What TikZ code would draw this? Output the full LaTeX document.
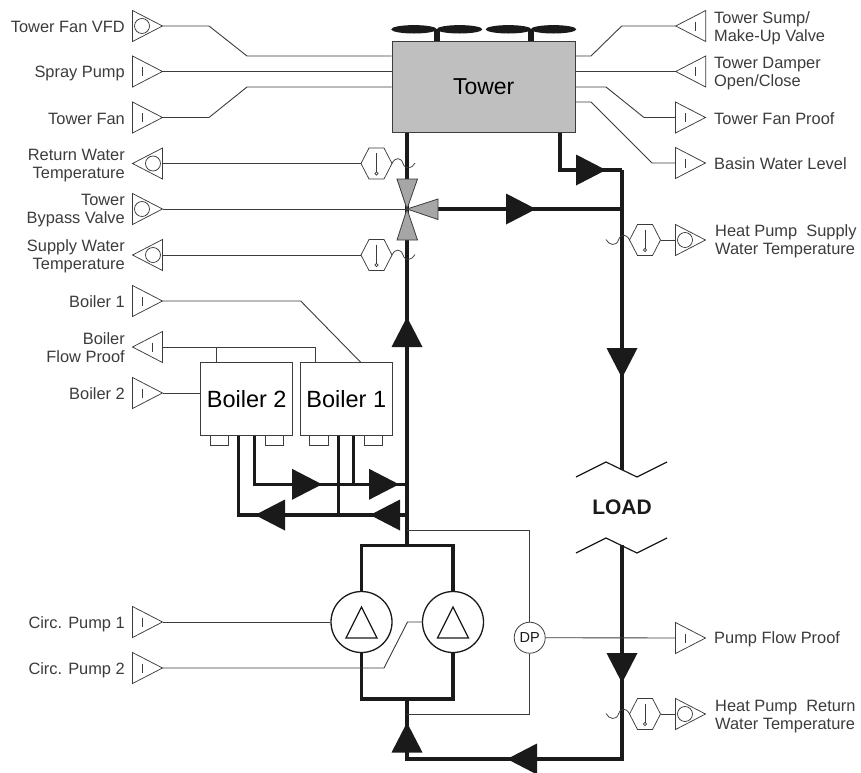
\documentclass[tikz,border=0pt]{standalone}
\usepackage{fontspec}
\setmainfont{Liberation Sans}
\definecolor{ink}{HTML}{1A1A1A}
\definecolor{wire}{HTML}{3C3C3C}
\definecolor{towergray}{HTML}{BFBFBF}
\definecolor{valvegray}{HTML}{A6A6A6}
\tikzset{
  sig/.style={draw=wire,line width=0.75pt,line join=miter},
  wireline/.style={draw=wire,line width=0.9pt},
  pipe/.style={draw=ink,line width=3.4pt,line join=miter},
  blockbox/.style={draw=wire,line width=0.9pt,fill=white,inner sep=0pt,font=\fontsize{23.5}{26}\selectfont},
  lbl/.style={inner sep=0pt,text=ink!85!white,font=\fontsize{16.4}{18}\selectfont,align=right,anchor=east},
  lblr/.style={lbl,align=left,anchor=west},
  pumpc/.style={circle,draw=ink,line width=1.3pt,fill=white,minimum size=61pt,inner sep=0pt},
  tipfill/.style={fill=ink,draw=none},
}
\newcommand{\s}{\strut}
% signal triangles: name, base x, centre y
\newcommand{\sigR}[3]{\coordinate (#1) at (#2+30,#3);\coordinate (#1b) at (#2,#3);
  \draw[sig] (#2,#3-15.5)--(#2,#3+15.5)--(#2+30,#3)--cycle;}
\newcommand{\sigL}[3]{\coordinate (#1) at (#2-30,#3);\coordinate (#1b) at (#2,#3);
  \draw[sig] (#2,#3-15.5)--(#2,#3+15.5)--(#2-30,#3)--cycle;}
\newcommand{\barR}[2]{\draw[sig] (#1+10,#2-4.5)--(#1+10,#2+4.5);}
\newcommand{\barL}[2]{\draw[sig] (#1-10,#2-4.5)--(#1-10,#2+4.5);}
\newcommand{\ringR}[2]{\draw[sig] (#1+9.5,#2) circle (7.5);}
\newcommand{\ringL}[2]{\draw[sig] (#1-9.5,#2) circle (7.5);}
% temperature sensor: name, left x, centre y
\newcommand{\hexs}[3]{\coordinate (#1w) at (#2,#3);\coordinate (#1e) at (#2+31,#3);
  \draw[sig,fill=white] (#2,#3)--(#2+8,#3-15.5)--(#2+23,#3-15.5)--(#2+31,#3)--(#2+23,#3+15.5)--(#2+8,#3+15.5)--cycle;
  \draw[sig] (#2+15.5,#3-10.5)--(#2+15.5,#3+8.5);
  \draw[sig] (#2+15.5,#3+10) circle (1.6);}
% flow arrows: tip x, tip y
\newcommand{\flowR}[2]{\fill[tipfill] (#1,#2)--(#1-30,#2-15.5)--(#1-30,#2+15.5)--cycle;}
\newcommand{\flowL}[2]{\fill[tipfill] (#1,#2)--(#1+30,#2-15.5)--(#1+30,#2+15.5)--cycle;}
\newcommand{\flowU}[2]{\fill[tipfill] (#1,#2)--(#1-15.5,#2+30)--(#1+15.5,#2+30)--cycle;}
\newcommand{\flowD}[2]{\fill[tipfill] (#1,#2)--(#1-15.5,#2-30)--(#1+15.5,#2-30)--cycle;}
\begin{document}
\begin{tikzpicture}[x=1pt,y=-1pt]
\clip (0,0) rectangle (861,772);
\fill[white] (0,0) rectangle (861,772);

% ---- blocks
\node[blockbox,fill=towergray,minimum width=183.5pt,minimum height=91.5pt,
  font=\fontsize{23}{26}\selectfont] (tower) at (483.7,87) {Tower};
\node[blockbox,minimum width=92pt,minimum height=73.5pt] (boilerB) at (246.7,399) {Boiler 2};
\node[blockbox,minimum width=92pt,minimum height=73.5pt] (boilerA) at (346.3,399) {Boiler 1};

% ---- named junctions
\coordinate (v) at (407,209);
\coordinate (vR) at (438,209);
\coordinate (jA) at (622,209);
\coordinate (tOut) at (560,132.7);
\coordinate (tc) at (622,170);
\coordinate (loadT) at (622,470);
\coordinate (loadB) at (622,545);
\coordinate (corner) at (622,759);
\coordinate (bot) at (407,759);
\coordinate (pumpBot) at (407,699);
\coordinate (pumpTop) at (407,545.7);
\coordinate (sup) at (407,484.3);
\coordinate (ret) at (407,515);
\coordinate (pA) at (361.5,622);
\coordinate (pB) at (453,622);

% ---- pipes
\draw[pipe] (tOut)--(tOut|-tc)--(tc);
\draw[pipe] (tc)--(loadT);
\draw[pipe] (vR)--(jA);
\draw[pipe] (loadB)--(corner)--(bot)--(pumpBot);
\draw[pipe] (tower.south-|v)--(v)--(pumpTop);
\draw[pipe] (pA|-pumpTop) rectangle (pB|-pumpBot);

\coordinate (b2s) at (254.3,435.7);
\coordinate (b2r) at (238.7,435.7);
\coordinate (b1s) at (353.7,435.7);
\coordinate (b1r) at (338.3,435.7);
\draw[pipe] (b2s)--(b2s|-sup)--(sup);
\draw[pipe] (b1s)--(b1s|-sup);
\draw[pipe] (b2r)--(b2r|-ret)--(ret);
\draw[pipe] (b1r)--(b1r|-ret);

% ---- fans
\foreach \cx in {414,459.5,508.5,553.5}{
  \fill[ink] (\cx,29.3) ellipse (22.8 and 4.2);
}
\fill[ink] (434,29) rectangle (440,41);
\fill[ink] (528,29) rectangle (534,41);

% ---- boiler feet
\foreach \fx in {210,265,309.3,364}{
  \draw[sig,fill=white] (\fx,435.7) rectangle (\fx+18.7,445);
}

% ---- flow arrows
\flowR{606}{170}
\flowR{536}{209}
\flowU{407}{317}
\flowD{622}{378}
\flowD{622}{683}
\flowL{507}{759}
\flowU{407}{722.5}
\flowR{322}{484.3}
\flowR{399}{484.3}
\flowL{255}{515}
\flowL{370}{515}

% ---- load break marks
\coordinate (lt1) at (576,477);\coordinate (lt2) at (606,462);\coordinate (lt3) at (637,477);\coordinate (lt4) at (667,462);
\coordinate (lb1) at (576,553);\coordinate (lb2) at (606,538);\coordinate (lb3) at (637,553);\coordinate (lb4) at (667,538);
\draw[ink,line width=1.2pt] (lt1)--(lt2)--(lt3)--(lt4);
\draw[ink,line width=1.2pt] (lb1)--(lb2)--(lb3)--(lb4);
\node[inner sep=0pt,text=ink,font=\fontsize{21}{24}\selectfont\bfseries] (load) at (622,507) {LOAD};

% ---- valve
\draw[draw=wire,line width=0.8pt,fill=valvegray,line join=miter] (397,179)--(417.5,179)--(v)--cycle;
\draw[draw=wire,line width=0.8pt,fill=valvegray,line join=miter] (397,240)--(417.5,240)--(v)--cycle;
\draw[draw=wire,line width=0.8pt,fill=valvegray,line join=miter] (vR|-0,199)--(vR|-0,219.5)--(v)--cycle;

% ---- pumps
\node[pumpc] (pump1) at (pA) {};
\node[pumpc] (pump2) at (pB) {};
\draw[ink,line width=1.3pt,line join=miter] (361.5,607)--(346,638)--(377,638)--cycle;
\draw[ink,line width=1.3pt,line join=miter] (453,607)--(437.5,638)--(468.5,638)--cycle;

% ---- signal triangles, left
\sigR{sVFD}{132.5}{26}\ringR{132.5}{26}
\sigR{sSpray}{132.5}{71.5}\barR{132.5}{71.5}
\sigR{sFan}{132.5}{117.5}\barR{132.5}{117.5}
\sigL{sRet}{162.5}{163.5}\ringL{162.5}{163.5}
\sigR{sByp}{132.5}{209}\ringR{132.5}{209}
\sigL{sSup}{162.5}{255}\ringL{162.5}{255}
\sigR{sB1}{132.5}{301}\barR{132.5}{301}
\sigL{sFlow}{162.5}{347}\barL{162.5}{347}
\sigR{sB2}{132.5}{393}\barR{132.5}{393}
\sigR{sP1}{132.5}{622}\barR{132.5}{622}
\sigR{sP2}{132.5}{668}\barR{132.5}{668}
% ---- signal triangles, right
\sigL{sSump}{705.7}{26}\barL{705.7}{26}
\sigL{sDamp}{705.7}{71.5}\barL{705.7}{71.5}
\sigR{sProof}{675.5}{117.5}\barR{675.5}{117.5}
\sigR{sBasin}{675.5}{163}\barR{675.5}{163}
\sigR{sHPS}{675.5}{240}\ringR{675.5}{240}
\sigR{sPFP}{675.5}{638}\barR{675.5}{638}
\sigR{sHPR}{675.5}{714}\ringR{675.5}{714}

% ---- temperature sensors
\hexs{hRet}{361}{163.5}
\hexs{hSup}{361}{255}
\hexs{hHPS}{629.5}{240}
\hexs{hHPR}{629.5}{714}

% ---- signal wiring, left
\draw[wireline] (sVFD)--(209,26)--(247,56)--(tower.west|-0,56);
\draw[wireline] (sSpray)--(tower.west|-sSpray);
\draw[wireline] (sFan)--(209,117.5)--(247,87)--(tower.west|-0,87);
\draw[wireline] (sRetb)--(hRetw);
\draw[wireline] (sByp)--(v);
\draw[wireline] (sSupb)--(hSupw);
\draw[wireline] (sB1)--(300.7,301)--(360.7,362.3);
\coordinate (fl1) at (216.3,347);\coordinate (fl2) at (315.7,347);
\draw[wireline] (sFlowb)--(fl2)--(fl2|-boilerA.north);
\draw[wireline] (fl1)--(fl1|-boilerB.north);
\draw[wireline] (sB2)--(boilerB.west|-sB2);
\draw[wireline] (sP1)--(pump1.west);
\draw[wireline] (sP2)--(384,668)--(407.5,622)--(pump2.west);
% ---- signal wiring, right
\draw[wireline] (tower.east|-0,56)--(591,56)--(621.7,26)--(sSump);
\draw[wireline] (tower.east|-sDamp)--(sDamp);
\draw[wireline] (tower.east|-0,87)--(606,87)--(644,117.5)--(sProofb);
\draw[wireline] (tower.east|-0,102)--(591,102)--(652,163)--(sBasinb);
\draw[wireline] (hHPSe)--(sHPSb);
\draw[wireline] (hHPRe)--(sHPRb);

% ---- sensor wells
\draw[sig] (hRete) .. controls (395,157) and (401,157) .. (403,163.5) .. controls (405,170) and (412,169) .. (415,163);
\draw[sig] (hSupe) .. controls (395,248.5) and (401,248.5) .. (403,255) .. controls (405,261.5) and (412,260.5) .. (415,254.5);
\draw[sig] (hHPSw) .. controls (626.5,233.5) and (620.5,233.5) .. (618.5,240) .. controls (616.5,246.5) and (609,245.5) .. (606,239.5);
\draw[sig] (hHPRw) .. controls (626.5,707.5) and (620.5,707.5) .. (618.5,714) .. controls (616.5,720.5) and (609,719.5) .. (606,713.5);

% ---- differential pressure
\node[circle,draw=wire,line width=0.8pt,fill=white,minimum size=31pt,inner sep=0pt,text=ink,font=\fontsize{14.5}{15}\selectfont] (dp) at (529.7,637.7) {DP};
\coordinate (dpT) at (407,530);\coordinate (dpB) at (407,714);
\draw[wireline] (dpT)--(dpT-|dp)--(dp.north);
\draw[wireline] (dp.south)--(dpB-|dp)--(dpB);
\draw[wireline] (dp.east)--(sPFPb);

% ---- labels, left
\node[lbl] (l1) at (125,29) {\s Tower Fan VFD};
\node[lbl] (l2) at (125,74) {\s Spray Pump};
\node[lbl] (l3) at (125,121) {\s Tower Fan};
\node[lbl] (l4) at (125,165.5) {\s Return Water\\\s Temperature};
\node[lbl] (l5) at (125,210.5) {\s Tower\\\s Bypass Valve};
\node[lbl] (l6) at (125,256.5) {\s Supply Water\\\s Temperature};
\node[lbl] (l7) at (125,304) {\s Boiler 1};
\node[lbl] (l8) at (125,349.5) {\s Boiler\\\s Flow Proof};
\node[lbl] (l9) at (125,396) {\s Boiler 2};
\node[lbl] (l10) at (125,625) {\s Circ. Pump 1};
\node[lbl] (l11) at (125,671) {\s Circ. Pump 2};
% ---- labels, right
\node[lblr] (r1) at (714,29) {\s Tower Sump/\\\s Make-Up Valve};
\node[lblr] (r2) at (714,74) {\s Tower Damper\\\s Open/Close};
\node[lblr] (r3) at (714,120.5) {\s Tower Fan Proof};
\node[lblr] (r4) at (714,166) {\s Basin Water Level};
\node[lblr] (r5) at (715,242) {\s Heat Pump~ Supply\\\s Water Temperature};
\node[lblr] (r6) at (714,640) {\s Pump Flow Proof};
\node[lblr] (r7) at (715,717) {\s Heat Pump~ Return\\\s Water Temperature};
\end{tikzpicture}
\end{document}
